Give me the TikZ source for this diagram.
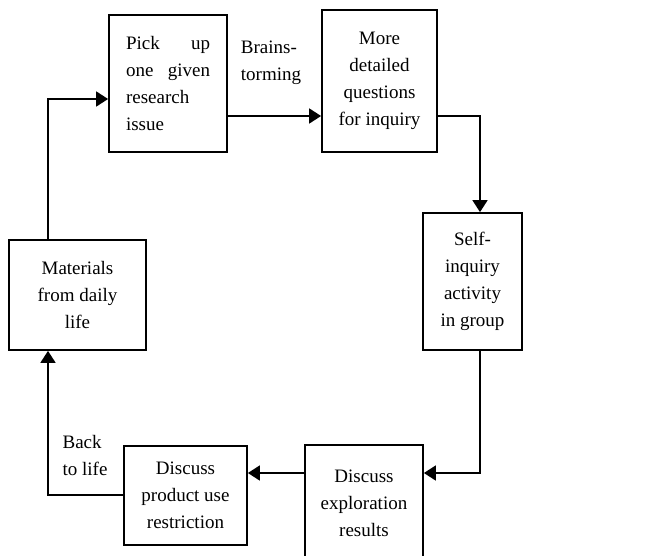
\documentclass[tikz,border=0pt]{standalone}
\usepackage{fontspec}
\setmainfont{Liberation Serif}
\usetikzlibrary{arrows.meta}
\begin{document}
\begin{tikzpicture}[x=1pt,y=-1pt,
  box/.style={draw,line width=1.8pt,inner sep=0pt,align=center,font=\fontsize{19}{27}\selectfont},
  lbl/.style={inner sep=0pt,align=left,font=\fontsize{19}{27}\selectfont},
  arr/.style={line width=1.8pt,-{Triangle[length=12pt,width=15pt]}}]
\useasboundingbox (0,0) rectangle (663,556);
\node[box,minimum width=118pt,minimum height=137pt] (b1) at (168,83.5)
  {\parbox{84pt}{\raggedright Pick\hfill up\\ one\hfill given\\ research\\ issue}};
\node[box,minimum width=115pt,minimum height=142pt] (b2) at (379.5,81)
  {More\\detailed\\questions\\for inquiry};
\node[box,minimum width=99pt,minimum height=137pt] (b3) at (472.5,281.5)
  {Self-\\inquiry\\activity\\in group};
\node[box,minimum width=118pt,minimum height=116pt] (b4) at (364,503)
  {Discuss\\exploration\\results};
\node[box,minimum width=123pt,minimum height=99pt] (b5) at (185.5,495.5)
  {Discuss\\product use\\restriction};
\node[box,minimum width=137pt,minimum height=110pt] (b6) at (77.5,295)
  {Materials\\from daily\\life};
\node[lbl] (l1) at (271,63) {Brains-\\torming};
\node[lbl] (l2) at (85,455) {Back\\to life};
\coordinate (r1) at (0,116);
\coordinate (c2) at (480,116);
\coordinate (r4) at (0,473);
\coordinate (c6) at (48,495);
\coordinate (r6) at (0,99);
\draw[arr] (b1.east |- r1) -- (b2.west |- r1);
\draw[arr] (b2.east |- c2) -| (b3.north -| c2);
\draw[arr] (b3.south -| c2) |- (b4.east |- r4);
\draw[arr] (b4.west |- r4) -- (b5.east |- r4);
\draw[arr] (b5.west |- c6) -| (b6.south -| c6);
\draw[arr] (b6.north -| c6) |- (b1.west |- r6);
\end{tikzpicture}
\end{document}
